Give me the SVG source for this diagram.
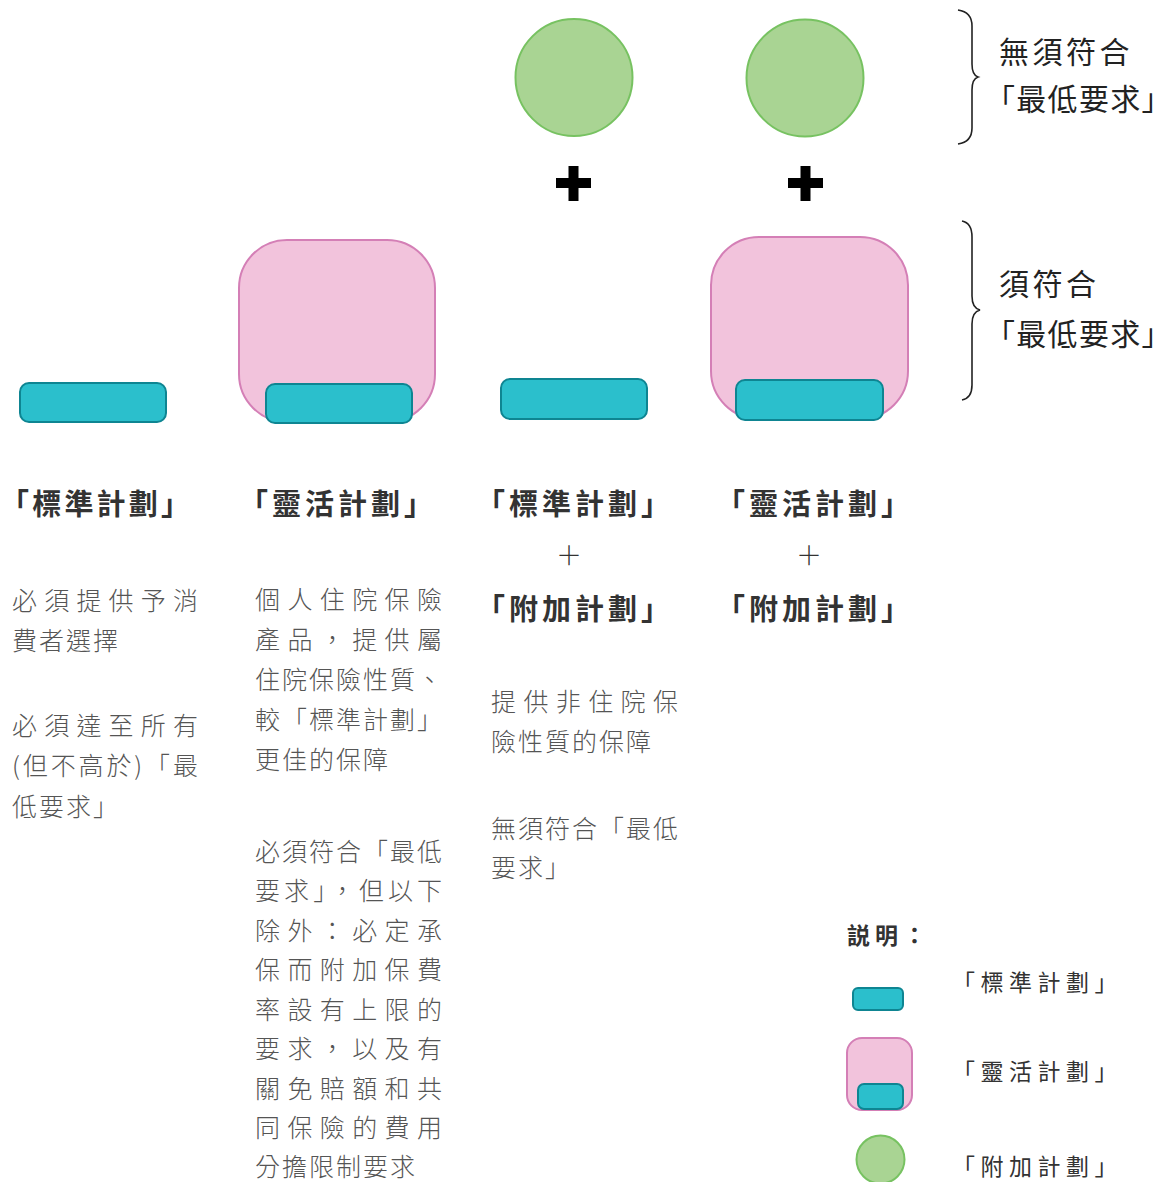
<svg xmlns="http://www.w3.org/2000/svg" width="1176" height="1182" viewBox="0 0 1176 1182">
<style>
.teal{fill:#2BBFCC;stroke:#0E8592;stroke-width:2}
.pink{fill:#F2C3DC;stroke:#D47FB6;stroke-width:2}
.green{fill:#A9D493;stroke:#77C261;stroke-width:2}
.brace{fill:none;stroke:#222;stroke-width:1.6}
.cross{fill:#000}
text{font-family:"Noto Sans CJK TC","Noto Sans CJK SC",sans-serif}
.h{font-size:29px;font-weight:700;fill:#333;letter-spacing:4px}
.plus{font-size:26px;fill:#333;font-weight:300}
.b{font-size:25px;font-weight:300;fill:#555;letter-spacing:2px}
.r{font-size:30px;fill:#222;letter-spacing:3.5px}
.lg{font-size:23px;fill:#333;letter-spacing:5.5px}
.lgh{font-size:23px;font-weight:700;fill:#333;letter-spacing:5px}
</style>
<rect width="1176" height="1182" fill="#fff"/>

<g id="rider-circles">
<circle class="green" cx="574" cy="77.5" r="58.5"/>
<circle class="green" cx="805" cy="78" r="58.5"/>
</g>
<g id="crosses">
<path class="cross" d="M556,178H568.5V166H578.5V178H591V188H578.5V201H568.5V188H556Z"/>
<path class="cross" d="M788,178H800.5V166H810.5V178H823V188H810.5V201H800.5V188H788Z"/>
</g>

<g id="braces">
<path class="brace" d="M958,10 Q972,12 972,26 L972,64 Q972,75 978,77 Q972,79 972,90 L972,128 Q972,142 958,144"/>
<path class="brace" d="M962,221 Q972,223 972,237 L972,296 Q972,308 980,310 Q972,312 972,324 L972,385 Q972,398 962,400"/>
</g>

<g id="label-no-min">
<text class="r" x="999" y="63">無須符合</text>
<text class="r" x="985" y="110" textLength="190" lengthAdjust="spacing">「最低要求」</text>
</g>
<g id="label-min">
<text class="r" x="999" y="295">須符合</text>
<text class="r" x="985" y="345" textLength="190" lengthAdjust="spacing">「最低要求」</text>
</g>

<g id="col1-standard">
<rect class="teal" x="20" y="383" width="146" height="39" rx="9"/>
<text class="h" x="0" y="515" style="letter-spacing:3.2px">「標準計劃」</text>
<text class="b" x="12" y="610" textLength="188" lengthAdjust="spacing">必須提供予消</text>
<text class="b" x="12" y="650">費者選擇</text>
<text class="b" x="12" y="735" textLength="188" lengthAdjust="spacing">必須達至所有</text>
<text class="b" x="12" y="775" textLength="188" lengthAdjust="spacing">(但不高於)「最</text>
<text class="b" x="12" y="816">低要求」</text>
</g>

<g id="col2-flexi">
<rect class="pink" x="239" y="240" width="196" height="182" rx="48"/>
<rect class="teal" x="266" y="384" width="146" height="39" rx="9"/>
<text class="h" x="239" y="515">「靈活計劃」</text>
<text class="b" x="255" y="609" textLength="189" lengthAdjust="spacing">個人住院保險</text>
<text class="b" x="255" y="649" textLength="189" lengthAdjust="spacing">產品，提供屬</text>
<text class="b" x="255" y="689" textLength="189" lengthAdjust="spacing">住院保險性質、</text>
<text class="b" x="255" y="729" textLength="189" lengthAdjust="spacing">較「標準計劃」</text>
<text class="b" x="255" y="769">更佳的保障</text>
<text class="b" x="255" y="861" textLength="189" lengthAdjust="spacing">必須符合「最低</text>
<text class="b" x="255" y="900" textLength="189" lengthAdjust="spacing">要求」，但以下</text>
<text class="b" x="255" y="940" textLength="189" lengthAdjust="spacing">除外：必定承</text>
<text class="b" x="255" y="979" textLength="189" lengthAdjust="spacing">保而附加保費</text>
<text class="b" x="255" y="1019" textLength="189" lengthAdjust="spacing">率設有上限的</text>
<text class="b" x="255" y="1058" textLength="189" lengthAdjust="spacing">要求，以及有</text>
<text class="b" x="255" y="1098" textLength="189" lengthAdjust="spacing">關免賠額和共</text>
<text class="b" x="255" y="1137" textLength="189" lengthAdjust="spacing">同保險的費用</text>
<text class="b" x="255" y="1176">分擔限制要求</text>
</g>

<g id="col3-standard-rider">
<rect class="teal" x="501" y="379" width="146" height="40" rx="9"/>
<text class="h" x="476" y="515">「標準計劃」</text>
<text class="plus" x="569" y="565" text-anchor="middle">＋</text>
<text class="h" x="476" y="620">「附加計劃」</text>
<text class="b" x="491" y="711" textLength="189" lengthAdjust="spacing">提供非住院保</text>
<text class="b" x="491" y="751">險性質的保障</text>
<text class="b" x="491" y="838" textLength="189" lengthAdjust="spacing">無須符合「最低</text>
<text class="b" x="491" y="877">要求」</text>
</g>

<g id="col4-flexi-rider">
<rect class="pink" x="711" y="237" width="197" height="182" rx="48"/>
<rect class="teal" x="736" y="380" width="147" height="40" rx="9"/>
<text class="h" x="716" y="515">「靈活計劃」</text>
<text class="plus" x="809" y="565" text-anchor="middle">＋</text>
<text class="h" x="716" y="620">「附加計劃」</text>
</g>

<g id="legend">
<text class="lgh" x="847" y="944">説明：</text>
<rect class="teal" x="853" y="988" width="50" height="22" rx="5"/>
<text class="lg" x="952" y="991">「標準計劃」</text>
<rect class="pink" x="847" y="1038" width="65" height="72" rx="15"/>
<rect class="teal" x="858" y="1084" width="45" height="25" rx="6"/>
<text class="lg" x="952" y="1080">「靈活計劃」</text>
<circle class="green" cx="880.5" cy="1159.5" r="24"/>
<text class="lg" x="952" y="1175">「附加計劃」</text>
</g>
</svg>
